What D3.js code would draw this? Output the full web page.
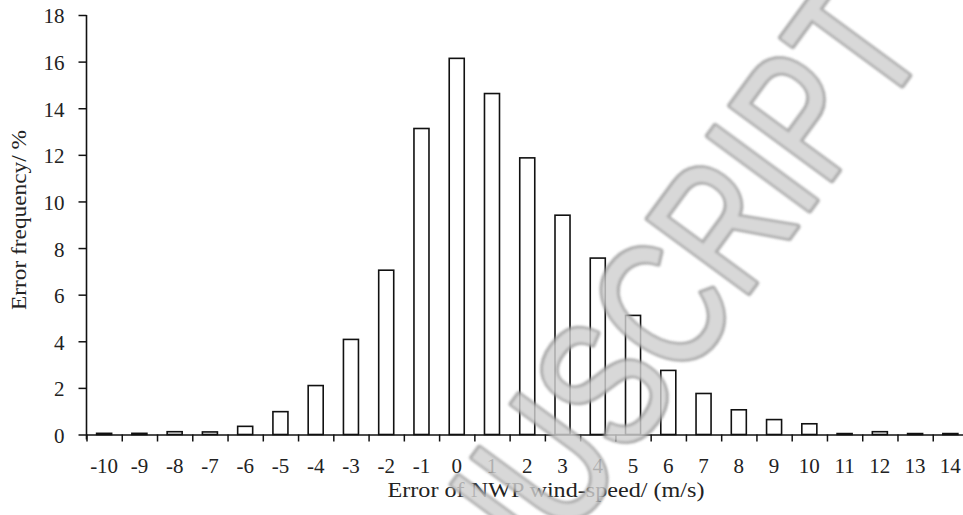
<!DOCTYPE html>
<html>
<head>
<meta charset="utf-8">
<script src="https://cdn.jsdelivr.net/npm/d3@7"></script>
<style>
  html, body { margin: 0; padding: 0; background: #fff; }
  svg { display: block; }
</style>
</head>
<body>
<svg id="chart" width="963" height="515"></svg>
<script>
// Histogram of NWP wind-speed forecast errors (m/s) and their frequency (%)
const categories = ["-10","-9","-8","-7","-6","-5","-4","-3","-2","-1","0","1","2",
                    "3","4","5","6","7","8","9","10","11","12","13","14"];
const frequency = [0.05, 0.05, 0.12, 0.11, 0.35, 0.98, 2.1, 4.08, 7.05, 13.13, 16.14, 14.63, 11.87,
                   9.41, 7.57, 5.11, 2.75, 1.76, 1.06, 0.64, 0.46, 0.04, 0.12, 0.04, 0.04];
const yTicks = [0, 2, 4, 6, 8, 10, 12, 14, 16, 18];
const xTitle = "Error of NWP wind-speed/ (m/s)";
const yTitle = "Error frequency/ %";
const watermark = "MANUSCRIPT";

const svg = d3.select("#chart");
const plotLeft = 86.5, plotRight = 968, plotTop = 15, plotBottom = 434.5;
const serif = "'Liberation Serif', 'Times New Roman', serif";
const ink = "#111";

const pad = 0.574;
const x = d3.scaleBand().domain(categories).range([plotLeft, plotRight])
  .paddingInner(pad).paddingOuter(pad / 2);
const xEdges = d3.scaleLinear().domain([0, categories.length]).range([plotLeft, plotRight]);
const y = d3.scaleLinear().domain([0, 18]).range([plotBottom, plotTop]);

// bars
svg.append("g").selectAll("rect")
  .data(categories.map((c, i) => ({ c, v: frequency[i] })))
  .join("rect")
  .attr("x", d => x(d.c))
  .attr("width", x.bandwidth())
  .attr("y", d => y(d.v))
  .attr("height", d => y(0) - y(d.v))
  .attr("fill", "#fff")
  .attr("stroke", ink)
  .attr("stroke-width", 1.6);

// x axis: boundary ticks
const gxTicks = svg.append("g").attr("transform", `translate(0,${plotBottom})`)
  .call(d3.axisBottom(xEdges).tickValues(d3.range(0, categories.length + 1))
    .tickFormat("").tickSize(7).tickSizeOuter(0));
gxTicks.select(".domain").attr("stroke", ink).attr("stroke-width", 1.6);
gxTicks.selectAll(".tick line").attr("stroke", ink).attr("stroke-width", 1.5);

// x axis: category labels
const gxLabels = svg.append("g").attr("transform", `translate(0,${plotBottom})`)
  .call(d3.axisBottom(x).tickSize(0).tickPadding(24));
gxLabels.select(".domain").remove();
gxLabels.selectAll("text")
  .attr("font-family", serif).attr("font-size", 21).attr("fill", "#222");

// y axis
const gy = svg.append("g").attr("transform", `translate(${plotLeft},0)`)
  .call(d3.axisLeft(y).tickValues(yTicks).tickFormat(d3.format("d"))
    .tickSize(8).tickSizeOuter(0).tickPadding(14));
gy.select(".domain").attr("stroke", ink).attr("stroke-width", 1.6)
  .attr("d", `M0,${plotTop}V${plotBottom + 5}`);
gy.selectAll(".tick line").attr("stroke", ink).attr("stroke-width", 1.5);
gy.selectAll("text")
  .attr("font-family", serif).attr("font-size", 21).attr("fill", "#222")
  .attr("dy", "0.38em");

// axis titles
svg.append("text")
  .attr("x", 546).attr("y", 497)
  .attr("text-anchor", "middle")
  .attr("font-family", serif).attr("font-size", 20).attr("fill", "#222")
  .attr("textLength", 317).attr("lengthAdjust", "spacingAndGlyphs")
  .text(xTitle);

svg.append("text")
  .attr("transform", "translate(25.5,220) rotate(-90)")
  .attr("text-anchor", "middle")
  .attr("font-family", serif).attr("font-size", 20).attr("fill", "#222")
  .attr("textLength", 180).attr("lengthAdjust", "spacingAndGlyphs")
  .text(yTitle);

// diagonal watermark overlay, clipped to the drawing area
const defs = svg.append("defs");
const f = defs.append("filter").attr("id", "soft").attr("x", "-10%").attr("y", "-10%")
  .attr("width", "120%").attr("height", "120%");
f.append("feGaussianBlur").attr("stdDeviation", 0.8);
defs.append("clipPath").attr("id", "page")
  .append("rect").attr("width", 963).attr("height", 515);

svg.append("g").attr("clip-path", "url(#page)")
  .append("text")
  .attr("transform", "translate(905,80) rotate(-53.7) scale(1,1.3)")
  .attr("x", 42.8).attr("y", 0)
  .attr("text-anchor", "end")
  .attr("font-family", "'Liberation Sans', Arial, sans-serif")
  .attr("font-size", 140)
  .attr("fill", "#d0d0d0")
  .attr("stroke", "#9a9a9a")
  .attr("stroke-width", 5)
  .attr("stroke-linejoin", "round")
  .attr("paint-order", "stroke")
  .attr("opacity", 0.82)
  .attr("filter", "url(#soft)")
  .text(watermark);
</script>
</body>
</html>
